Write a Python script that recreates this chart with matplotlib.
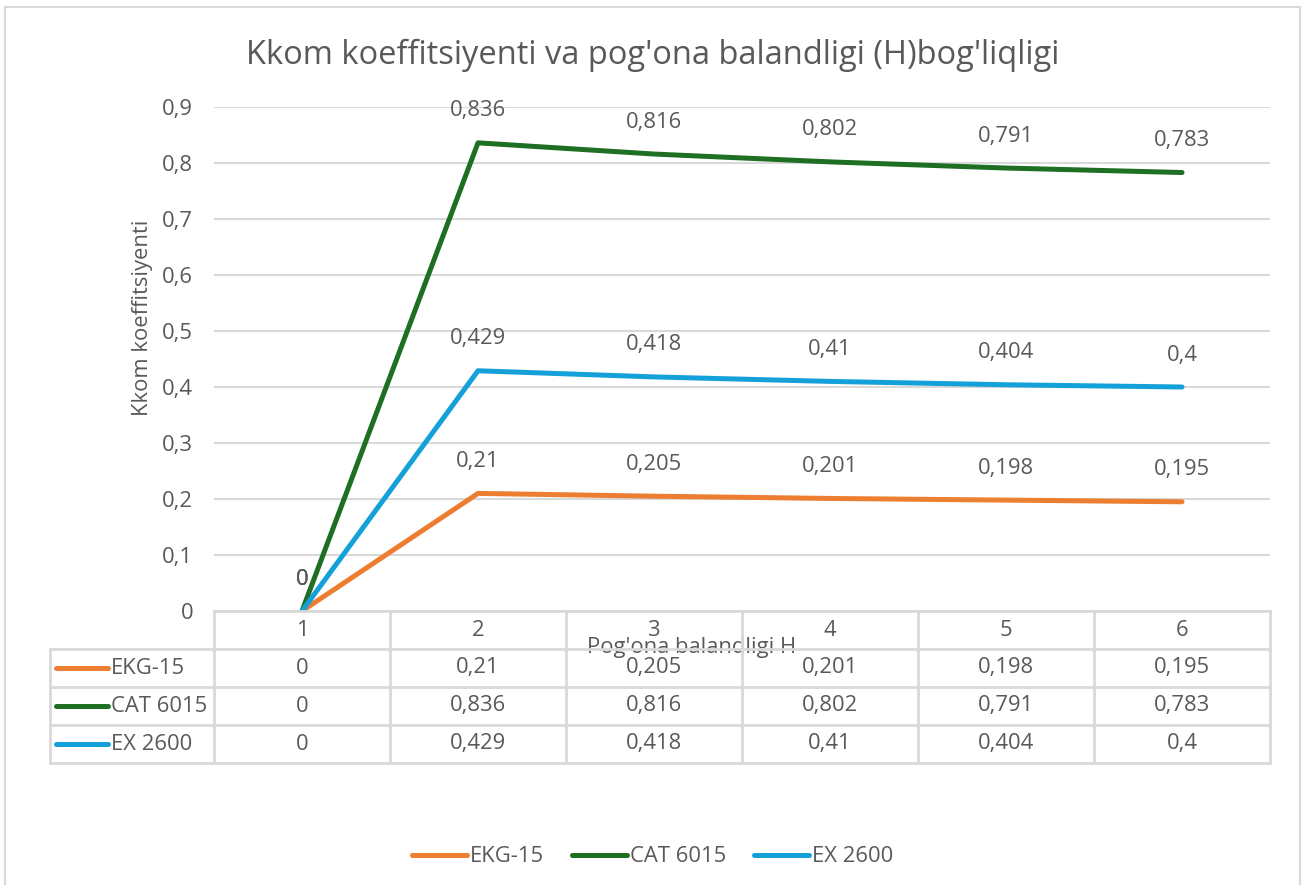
import matplotlib.pyplot as plt
from matplotlib.patches import Rectangle

plt.rcParams['font.family'] = ['Open Sans', 'DejaVu Sans']

# data
heights = [1, 2, 3, 4, 5, 6]
series_names = ['EKG-15', 'CAT 6015', 'EX 2600']
ekg15 = [0, 0.21, 0.205, 0.201, 0.198, 0.195]
cat6015 = [0, 0.836, 0.816, 0.802, 0.791, 0.783]
ex2600 = [0, 0.429, 0.418, 0.41, 0.404, 0.4]
series_vals = [ekg15, cat6015, ex2600]
colors = ['#ED7D31', '#1E6E23', '#14A0D8']

title = "Kkom koeffitsiyenti va pog'ona balandligi (H)bog'liqligi"
ylabel = "Kkom koeffitsiyenti"
xlabel = "Pog'ona balandligi H"

txt = '#595959'
grid = '#d9d9d9'
W, H = 1305, 885
fs = 15.8


def fmt(v):
    return ('%g' % v).replace('.', ',')


def box(l, t, r, b):
    # pixel box (from top-left) -> figure fraction
    return [l / W, 1 - b / H, (r - l) / W, (b - t) / H]


fig = plt.figure(figsize=(W / 100, H / 100), dpi=100)
fig.patches.append(Rectangle((5 / W, -0.05), 1295 / W, 1.05 - 7 / H,
                             transform=fig.transFigure, fill=False,
                             edgecolor=grid, lw=1.5))

fig.text(0.5, 1 - 55 / H, title, ha='center', va='center',
         fontsize=23.5, color=txt)

ax = fig.add_axes(box(214, 107, 1270, 611))
for vals, name, c in zip(series_vals, series_names, colors):
    ax.plot(heights, vals, color=c, lw=3.6, solid_capstyle='round',
            label=name, zorder=3)
    for x, v in zip(heights, vals):
        ax.annotate(fmt(v), (x, v), xytext=(0, 23), textcoords='offset points',
                    ha='center', va='center', fontsize=fs, color=txt)

ax.set_xlim(0.5, 6.5)
ax.set_ylim(0, 0.9)
ax.set_yticks([i / 10 for i in range(10)])
ax.set_yticklabels([fmt(i / 10) for i in range(10)])
ax.set_xticks([])
ax.tick_params(axis='y', length=0, pad=15, labelsize=fs, labelcolor=txt)
ax.grid(axis='y', color=grid, lw=1.5)
ax.set_axisbelow(True)
for s in ax.spines.values():
    s.set_visible(False)
ax.set_ylabel(ylabel, fontsize=fs, color=txt)
ax.yaxis.set_label_coords(-0.058, 0.581)
ax.set_xlabel(xlabel, fontsize=fs, color=txt)
ax.xaxis.set_label_coords(0.4527, -0.052)

# data table below the plot
tab = fig.add_axes(box(50, 611, 1270, 763))
tab.set_xlim(-0.432, 6.5)
tab.set_ylim(4, 0)
tab.axis('off')
lk = dict(color=grid, lw=2, clip_on=False)
tab.plot([0.5, 6.5], [0, 0], **lk)
for r in range(1, 5):
    tab.plot([-0.432, 6.5], [r, r], **lk)
for xc in [0.5 + i for i in range(7)]:
    tab.plot([xc, xc], [0, 4], **lk)
tab.plot([-0.432, -0.432], [1, 4], **lk)
for x in heights:
    tab.text(x, 0.5, str(x), ha='center', va='center', fontsize=fs, color=txt)
for r, (vals, name, c) in enumerate(zip(series_vals, series_names, colors), start=1):
    tab.plot([-0.4, -0.1], [r + 0.5, r + 0.5], color=c, lw=3.6,
             solid_capstyle='round', clip_on=False)
    tab.text(-0.085, r + 0.5, name, ha='left', va='center', fontsize=fs, color=txt)
    for x, v in zip(heights, vals):
        tab.text(x, r + 0.5, fmt(v), ha='center', va='center', fontsize=fs, color=txt)

h, l = ax.get_legend_handles_labels()
fig.legend(h, l, loc='center', bbox_to_anchor=(0.5, 1 - 857 / H), ncol=3,
           frameon=False, fontsize=fs, labelcolor=txt, handlelength=2.5,
           handletextpad=0.12, columnspacing=1.3)

fig.savefig('out.png', dpi=100)
